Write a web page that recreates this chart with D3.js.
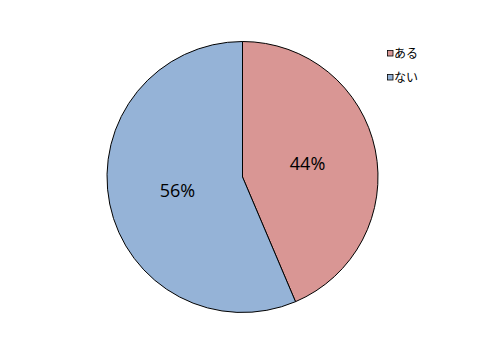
<!DOCTYPE html>
<html>
<head>
<meta charset="utf-8">
<script src="https://cdn.jsdelivr.net/npm/d3@7"></script>
<style>
  body { margin: 0; background: #fff; }
</style>
</head>
<body>
<script>
  // Chart data
  const categories = ['ある', 'ない'];
  const values = [43.6, 56.4];
  const colors = ['#D99694', '#95B3D7'];

  const width = 501;
  const height = 347;
  const cx = 242.5, cy = 177;
  const radius = 135.5;

  const svg = d3.select('body').append('svg')
    .attr('width', width)
    .attr('height', height);

  const pie = d3.pie().sort(null).value((d) => d.value);
  const arcs = pie(categories.map((c, i) => ({ name: c, value: values[i] })));

  const arc = d3.arc().innerRadius(0).outerRadius(radius);
  const labelArc = d3.arc().innerRadius(radius * 0.49).outerRadius(radius * 0.49);

  const chart = svg.append('g')
    .attr('transform', `translate(${cx},${cy})`);

  chart.selectAll('path')
    .data(arcs)
    .join('path')
    .attr('d', arc)
    .attr('fill', (d, i) => colors[i])
    .attr('stroke', '#000')
    .attr('stroke-width', 1);

  const total = d3.sum(values);
  chart.selectAll('text')
    .data(arcs)
    .join('text')
    .attr('transform', (d) => `translate(${labelArc.centroid(d)})`)
    .attr('text-anchor', 'middle')
    .attr('dy', '0.35em')
    .style('font-family', '"Open Sans", "Noto Sans", sans-serif')
    .style('font-size', '18px')
    .attr('fill', '#000')
    .text((d) => Math.round(d.data.value / total * 100) + '%');

  // Legend
  const legend = svg.append('g')
    .attr('transform', 'translate(387,50)');

  const item = legend.selectAll('g')
    .data(categories)
    .join('g')
    .attr('transform', (d, i) => `translate(0,${i * 24})`);

  item.append('rect')
    .attr('x', 0.5).attr('y', 0.5)
    .attr('width', 5.5).attr('height', 5.5)
    .attr('fill', (d, i) => colors[i])
    .attr('stroke', '#000')
    .attr('stroke-width', 0.8);

  item.append('text')
    .attr('x', 7)
    .attr('y', 3)
    .attr('dy', '0.38em')
    .style('font-family', '"Noto Sans CJK JP", sans-serif')
    .style('font-size', '12px')
    .text((d) => d);
</script>
</body>
</html>
